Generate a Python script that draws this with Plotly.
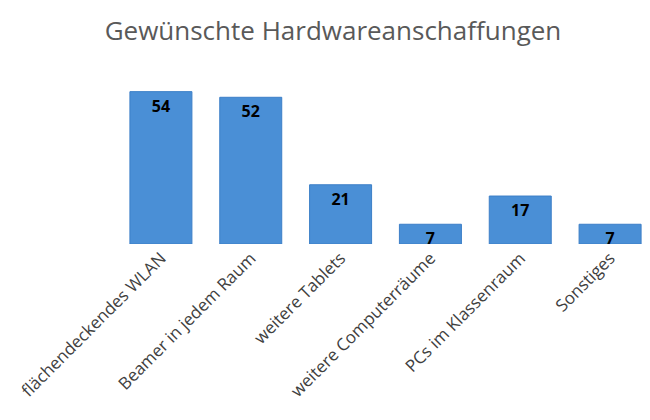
import plotly.graph_objects as go

categories = ["flächendeckendes WLAN", "Beamer in jedem Raum", "weitere Tablets",
              "weitere Computerräume", "PCs im Klassenraum", "Sonstiges"]
values = [54, 52, 21, 7, 17, 7]

fig = go.Figure(go.Bar(
    x=categories, y=values, text=[str(v) for v in values],
    textposition="inside", insidetextanchor="end", textangle=0,
    textfont=dict(family="Open Sans", size=16, color="black", weight="bold"),
    marker=dict(color="#4A8FD6", line=dict(color="#3C7FC7", width=1)),
    cliponaxis=False,
))
fig.update_layout(
    width=650, height=420,
    margin=dict(l=108, r=3, t=78, b=184),
    paper_bgcolor="white", plot_bgcolor="white",
    title=dict(text="Gewünschte Hardwareanschaffungen", x=0.5, xanchor="center",
               y=0.945, yanchor="middle",
               font=dict(family="Open Sans", size=26, color="#595959")),
    bargap=0.31,
    uniformtext=dict(minsize=16, mode="show"),
    showlegend=False,
)
fig.update_xaxes(tickangle=-45, automargin=False,
                 tickfont=dict(family="Open Sans", size=17, color="#404040"),
                 showline=False, showgrid=False, ticks="")
fig.update_yaxes(range=[0, 56], visible=False, automargin=False)
fig.write_html("out.html")
